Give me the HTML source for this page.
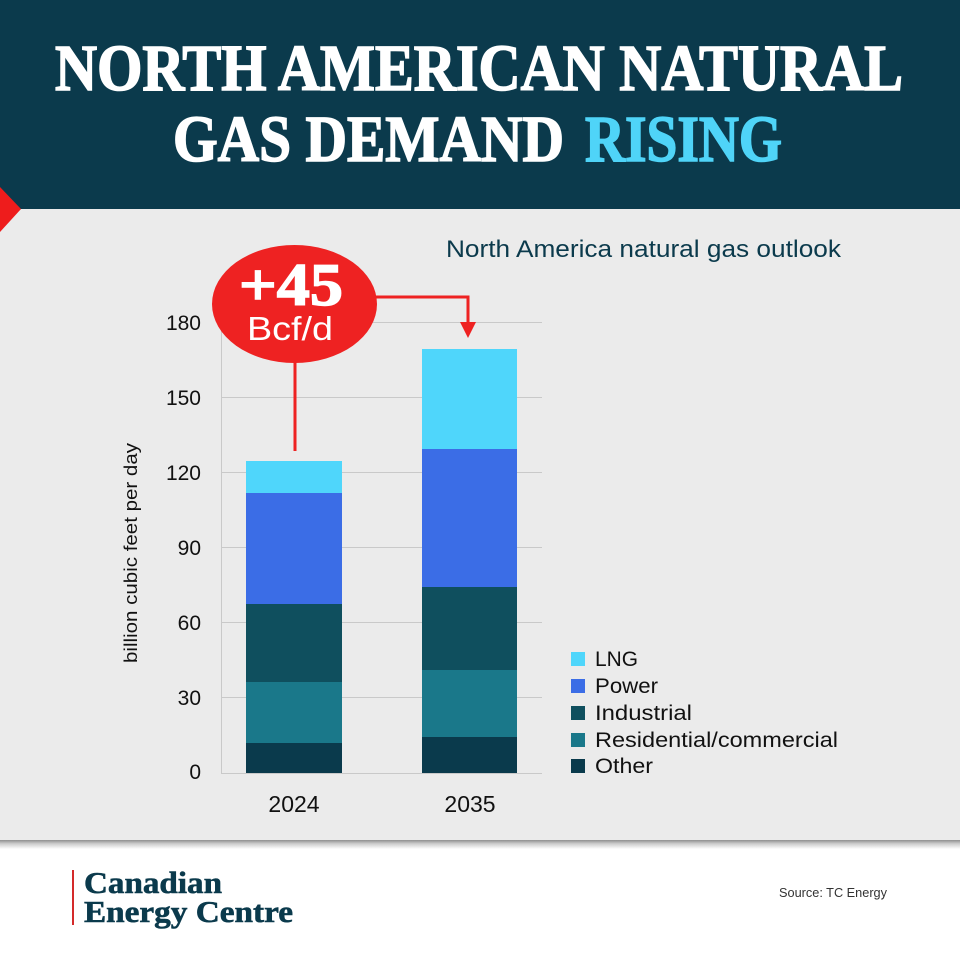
<!DOCTYPE html>
<html><head><meta charset="utf-8"><style>
html,body{margin:0;padding:0;background:#fff;}
svg{display:block;}
</style></head><body>
<svg width="960" height="960" viewBox="0 0 960 960" xmlns="http://www.w3.org/2000/svg">
<defs>
<linearGradient id="sh" x1="0" y1="0" x2="0" y2="1">
<stop offset="0" stop-color="#8f8f8f"/>
<stop offset="0.4" stop-color="#cbcbcb"/>
<stop offset="1" stop-color="#ffffff"/>
</linearGradient>
</defs>
<rect x="0" y="0" width="960" height="960" fill="#ffffff"/>
<!-- gray panel -->
<rect x="0" y="209" width="960" height="631" fill="#ebebeb"/>
<rect x="0" y="840" width="960" height="9" fill="url(#sh)"/>
<!-- header -->
<rect x="0" y="0" width="960" height="209" fill="#0b3a4c"/>
<polygon points="0,187 21,209 0,232" fill="#ee1c1c"/>
<text x="55" y="90" font-family="Liberation Serif, serif" font-weight="bold" font-size="66" fill="#ffffff" stroke="#ffffff" stroke-width="1.6" textLength="848" lengthAdjust="spacingAndGlyphs">NORTH AMERICAN NATURAL</text>
<text x="173" y="161" font-family="Liberation Serif, serif" font-weight="bold" font-size="66" fill="#ffffff" stroke="#ffffff" stroke-width="1.6" textLength="391" lengthAdjust="spacingAndGlyphs">GAS DEMAND</text>
<text x="585" y="161" font-family="Liberation Serif, serif" font-weight="bold" font-size="66" fill="#4fd4f8" stroke="#4fd4f8" stroke-width="1.6" textLength="197" lengthAdjust="spacingAndGlyphs">RISING</text>

<!-- subtitle -->
<text x="446" y="257" font-family="Liberation Sans, sans-serif" font-size="24" fill="#0b3a4c" textLength="395" lengthAdjust="spacingAndGlyphs">North America natural gas outlook</text>

<!-- grid -->
<g stroke="#c9c9c9" stroke-width="1">
<line x1="222" y1="322.5" x2="542" y2="322.5"/>
<line x1="222" y1="397.5" x2="542" y2="397.5"/>
<line x1="222" y1="472.5" x2="542" y2="472.5"/>
<line x1="222" y1="547.5" x2="542" y2="547.5"/>
<line x1="222" y1="622.5" x2="542" y2="622.5"/>
<line x1="222" y1="697.5" x2="542" y2="697.5"/>
<line x1="222" y1="773.5" x2="542" y2="773.5"/>
<line x1="221.5" y1="322" x2="221.5" y2="774"/>
</g>
<!-- y ticks -->
<g font-family="Liberation Sans, sans-serif" font-size="21" fill="#111" text-anchor="end">
<text x="201" y="330">180</text>
<text x="201" y="405">150</text>
<text x="201" y="480">120</text>
<text x="201" y="555">90</text>
<text x="201" y="630">60</text>
<text x="201" y="705">30</text>
<text x="201" y="779">0</text>
</g>
<text transform="translate(137,553) rotate(-90)" text-anchor="middle" font-family="Liberation Sans, sans-serif" font-size="18" fill="#111" textLength="220" lengthAdjust="spacingAndGlyphs">billion cubic feet per day</text>

<!-- bars 2024 -->
<rect x="246" y="743" width="96" height="30" fill="#0a3a4c"/>
<rect x="246" y="682" width="96" height="61" fill="#1a788a"/>
<rect x="246" y="604" width="96" height="78" fill="#0f4f5e"/>
<rect x="246" y="493" width="96" height="111" fill="#3b6de6"/>
<rect x="246" y="461" width="96" height="32" fill="#4fd6fb"/>
<!-- bars 2035 -->
<rect x="422" y="737" width="95" height="36" fill="#0a3a4c"/>
<rect x="422" y="670" width="95" height="67" fill="#1a788a"/>
<rect x="422" y="587" width="95" height="83" fill="#0f4f5e"/>
<rect x="422" y="449" width="95" height="138" fill="#3b6de6"/>
<rect x="422" y="349" width="95" height="100" fill="#4fd6fb"/>

<!-- x labels -->
<g font-family="Liberation Sans, sans-serif" font-size="23" fill="#111" text-anchor="middle">
<text x="294" y="812">2024</text>
<text x="470" y="812">2035</text>
</g>

<!-- callout -->
<g stroke="#ee2222" stroke-width="3" fill="none">
<line x1="295" y1="360" x2="295" y2="451"/>
<polyline points="370,297 468,297 468,324"/>
</g>
<polygon points="460,322 476,322 468,338" fill="#ee2222"/>
<ellipse cx="294.5" cy="304" rx="82.5" ry="59" fill="#ee2222"/>
<text x="239" y="305" font-family="Liberation Serif, serif" font-weight="bold" font-size="60" fill="#ffffff" stroke="#ffffff" stroke-width="1.5" textLength="104" lengthAdjust="spacingAndGlyphs">+45</text>
<text x="247" y="340" font-family="Liberation Sans, sans-serif" font-size="33" fill="#ffffff" textLength="86" lengthAdjust="spacingAndGlyphs">Bcf/d</text>

<!-- legend -->
<g font-family="Liberation Sans, sans-serif" font-size="21" fill="#111">
<rect x="571" y="652" width="14" height="14" fill="#4fd6fb"/>
<text x="595" y="666" textLength="43" lengthAdjust="spacingAndGlyphs">LNG</text>
<rect x="571" y="679" width="14" height="14" fill="#3b6de6"/>
<text x="595" y="693" textLength="63" lengthAdjust="spacingAndGlyphs">Power</text>
<rect x="571" y="706" width="14" height="14" fill="#0f4f5e"/>
<text x="595" y="720" textLength="97" lengthAdjust="spacingAndGlyphs">Industrial</text>
<rect x="571" y="733" width="14" height="14" fill="#1a788a"/>
<text x="595" y="747" textLength="243" lengthAdjust="spacingAndGlyphs">Residential/commercial</text>
<rect x="571" y="759" width="14" height="14" fill="#0a3a4c"/>
<text x="595" y="773" textLength="58" lengthAdjust="spacingAndGlyphs">Other</text>
</g>

<!-- footer -->
<rect x="72" y="870" width="2" height="55" fill="#d42a2a"/>
<text x="84" y="893" font-family="Liberation Serif, serif" font-weight="bold" font-size="31" fill="#0b3a4c" stroke="#0b3a4c" stroke-width="0.6" textLength="138" lengthAdjust="spacingAndGlyphs">Canadian</text>
<text x="84" y="922" font-family="Liberation Serif, serif" font-weight="bold" font-size="31" fill="#0b3a4c" stroke="#0b3a4c" stroke-width="0.6" textLength="209" lengthAdjust="spacingAndGlyphs">Energy Centre</text>
<text x="779" y="897" font-family="Liberation Sans, sans-serif" font-size="13" fill="#333" textLength="108" lengthAdjust="spacingAndGlyphs">Source: TC Energy</text>
</svg>
</body></html>
